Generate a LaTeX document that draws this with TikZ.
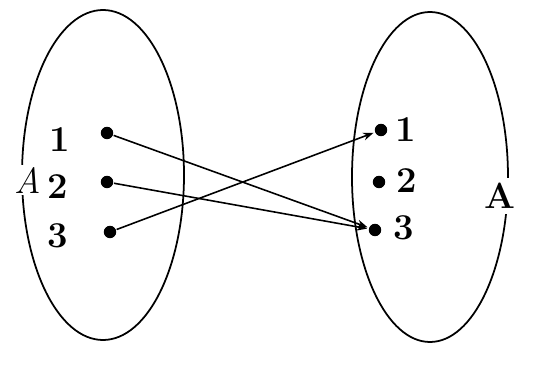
\documentclass[tikz,border=0pt]{standalone}
\usetikzlibrary{positioning,arrows.meta}
\tikzset{
  pt/.style={circle,fill,inner sep=2.5pt},
  num/.style={font=\huge\bfseries,inner sep=1pt},
  map/.style={-{Stealth[length=6pt,width=4.5pt]},line width=0.9pt,shorten >=0.5pt}
}
\begin{document}
\begin{tikzpicture}[x=0.02cm,y=-0.02cm,line width=1pt]
  \useasboundingbox (0,0) rectangle (535,375);
  \draw (103,175) ellipse [x radius=81,y radius=165];
  \draw (430,177) ellipse [x radius=78,y radius=165];
  \node[fill=white,inner sep=1pt,font=\huge\itshape] (setl) at (28,180) {A};
  \node[fill=white,inner sep=3pt,font=\huge\bfseries] (setr) at (500,196) {A};
  \node[pt] (l1) at (107,133) {};
  \node[pt] (l2) at (107,182) {};
  \node[pt] (l3) at (110,232) {};
  \node[pt] (r1) at (381,130) {};
  \node[pt] (r2) at (379,182) {};
  \node[pt] (r3) at (375,230) {};
  \node[num] (n1) at (60,140) {1};
  \node[num] (n2) at (58,187) {2};
  \node[num] (n3) at (58,236) {3};
  \node[num] (m1) at (406,130) {1};
  \node[num] (m2) at (407,181) {2};
  \node[num] (m3) at (404,228) {3};
  \draw[map] (l1) -- (r3);
  \draw[map] (l2) -- (r3);
  \draw[map] (l3) -- (r1);
\end{tikzpicture}
\end{document}
